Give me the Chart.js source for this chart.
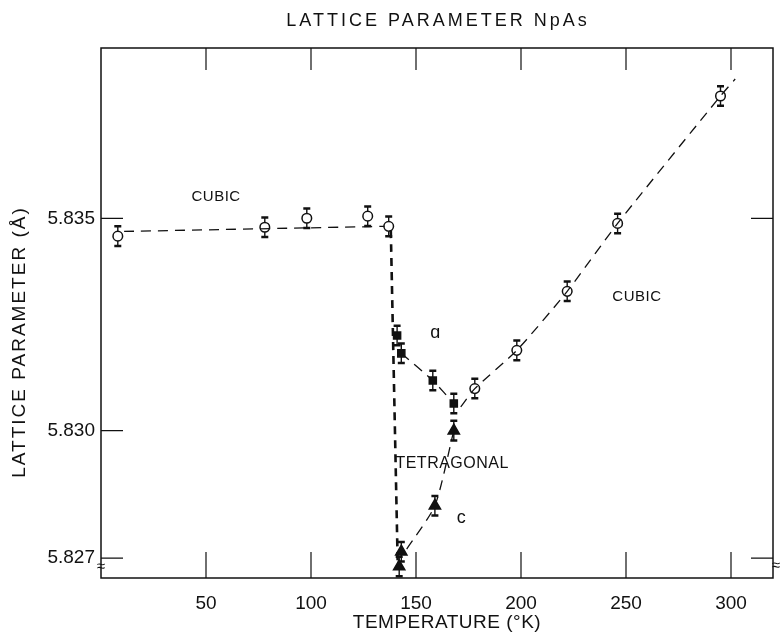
<!DOCTYPE html>
<html>
<head>
<meta charset="utf-8">
<script src="https://cdn.jsdelivr.net/npm/chart.js@4/dist/chart.umd.min.js"></script>
<style>
html, body { margin: 0; padding: 0; background: #fff; }
</style>
</head>
<body>
<canvas id="grafica" width="781" height="633"></canvas>
<script>
const FUENTE = "'Liberation Sans', 'DejaVu Sans', Arial, sans-serif";

// --- datos ---
// cubica (circulos abiertos)
const cubicT = [8, 78, 98, 127, 137, 178, 198, 222, 246, 295];
const cubicA = [5.83458, 5.83479, 5.83500, 5.83505, 5.83481, 5.83099, 5.83189, 5.83328, 5.83488, 5.83788];
// tetragonal a (cuadrados)
const aT = [141, 143, 158, 168];
const aVal = [5.83224, 5.83182, 5.83118, 5.83064];
// tetragonal c (triangulos)
const cT = [168, 159, 143, 142];
const cVal = [5.83000, 5.82823, 5.82715, 5.82680];
const errBar = 0.00023;

// curvas de trazos
const bajaT = [11, 135];
const bajaV = [5.83469, 5.83481];
const saltoT = [138, 141.3];
const saltoV = [5.83472, 5.82683];
const aLineaT = [143, 158, 168];
const aLineaV = [5.83182, 5.83118, 5.83064];
const altaT = [171.3, 178, 198, 222, 246, 295, 302];
const altaV = [5.83056, 5.83099, 5.83189, 5.83328, 5.83488, 5.83788, 5.83828];
const cLineaT = [168, 159, 145];
const cLineaV = [5.83000, 5.82823, 5.82717];

const xTicks = [50, 100, 150, 200, 250, 300];
const yTicks = [5.827, 5.830, 5.835];

const pares = (xs, ys) => xs.map((x, i) => ({ x, y: ys[i] }));

function trazo(datos, ancho, dash) {
    return { type: 'line', data: datos, borderColor: '#111', borderWidth: ancho,
             borderDash: dash, pointRadius: 0, fill: false, tension: 0.2 };
}

function puntos(datos, estilo, radio, relleno) {
    return { type: 'scatter', data: datos, pointStyle: estilo, pointRadius: radio,
             backgroundColor: relleno, borderColor: '#111', borderWidth: 1.5, errores: true };
}

const decoracion = {
    id: 'decoracion',
    beforeDatasetsDraw(chart) {
        const ctx = chart.ctx, xs = chart.scales.x, ys = chart.scales.y;
        ctx.save();
        ctx.strokeStyle = '#111';
        chart.data.datasets.forEach(ds => {
            if (!ds.errores) return;
            ds.data.forEach(p => {
                const px = xs.getPixelForValue(p.x);
                const top = ys.getPixelForValue(p.y + errBar);
                const bot = ys.getPixelForValue(p.y - errBar);
                ctx.lineWidth = 1.4;
                ctx.beginPath(); ctx.moveTo(px, top); ctx.lineTo(px, bot); ctx.stroke();
                ctx.lineWidth = 2.5;
                ctx.beginPath();
                ctx.moveTo(px - 3.5, top); ctx.lineTo(px + 3.5, top);
                ctx.moveTo(px - 3.5, bot); ctx.lineTo(px + 3.5, bot);
                ctx.stroke();
            });
        });
        ctx.restore();
    },
    afterDraw(chart) {
        const ctx = chart.ctx, a = chart.chartArea;
        const xs = chart.scales.x, ys = chart.scales.y;
        ctx.save();
        ctx.strokeStyle = '#111';
        ctx.lineWidth = 1.5;
        ctx.strokeRect(a.left, a.top, a.right - a.left, a.bottom - a.top);
        ctx.lineWidth = 1.2;
        ctx.beginPath();
        xTicks.forEach(t => {
            const px = xs.getPixelForValue(t);
            ctx.moveTo(px, a.bottom); ctx.lineTo(px, a.bottom - 26);
            ctx.moveTo(px, a.top); ctx.lineTo(px, a.top + 22);
        });
        yTicks.forEach(t => {
            const py = ys.getPixelForValue(t);
            ctx.moveTo(a.left, py); ctx.lineTo(a.left + 22, py);
        });
        [5.835, 5.827].forEach(t => {
            const py = ys.getPixelForValue(t);
            ctx.moveTo(a.right, py); ctx.lineTo(a.right - 22, py);
        });
        ctx.stroke();

        // textos
        ctx.fillStyle = '#111';
        ctx.textBaseline = 'middle';
        ctx.textAlign = 'center';
        ctx.font = '18px ' + FUENTE;
        ctx.letterSpacing = '3px';
        ctx.fillText('LATTICE PARAMETER NpAs', 438, 21);
        ctx.font = '19px ' + FUENTE;
        ctx.letterSpacing = '0.5px';
        ctx.fillText('TEMPERATURE (\u00B0K)', 447, 623);
        ctx.save();
        ctx.translate(20, 342);
        ctx.rotate(-Math.PI / 2);
        ctx.letterSpacing = '2px';
        ctx.fillText('LATTICE PARAMETER (\u00C5)', 0, 0);
        ctx.restore();

        ctx.letterSpacing = '0.5px';
        ctx.font = '15px ' + FUENTE;
        ctx.fillText('CUBIC', xs.getPixelForValue(54.8), ys.getPixelForValue(5.8355));
        ctx.fillText('CUBIC', xs.getPixelForValue(255.2), ys.getPixelForValue(5.83314));
        ctx.textAlign = 'left';
        ctx.font = '16px ' + FUENTE;
        ctx.fillText('TETRAGONAL', xs.getPixelForValue(140.2), ys.getPixelForValue(5.82922));
        ctx.textAlign = 'center';
        ctx.font = '18px ' + FUENTE;
        ctx.fillText('\u0251', xs.getPixelForValue(159.3), ys.getPixelForValue(5.83231));
        ctx.fillText('c', xs.getPixelForValue(171.7), ys.getPixelForValue(5.82795));

        // cortes del eje
        ctx.font = '15px ' + FUENTE;
        ctx.fillText('\u2248', a.left, 567);
        ctx.fillText('\u2248', a.right + 3, 566);
        ctx.restore();
    }
};

new Chart(document.getElementById('grafica'), {
    data: {
        datasets: [
            trazo(pares(bajaT, bajaV), 1.3, [10, 7]),
            trazo(pares(saltoT, saltoV), 2.6, [8, 6]),
            trazo(pares(aLineaT, aLineaV), 1.3, [10, 7]),
            trazo(pares(altaT, altaV), 1.3, [10, 7]),
            trazo(pares(cLineaT, cLineaV), 1.3, [10, 7]),
            puntos(pares(cubicT, cubicA), 'circle', 4.8, '#fff'),
            puntos(pares(aT, aVal), 'rect', 5, '#111'),
            puntos(pares(cT, cVal), 'triangle', 6.5, '#111')
        ]
    },
    options: {
        responsive: false,
        animation: false,
        layout: { padding: { top: 48, right: 6, left: 0, bottom: 0 } },
        plugins: { legend: { display: false }, tooltip: { enabled: false } },
        scales: {
            x: {
                type: 'linear', min: 0, max: 320,
                grid: { display: false, drawTicks: false },
                border: { display: false },
                afterBuildTicks: s => { s.ticks = xTicks.map(v => ({ value: v })); },
                afterFit: s => { s.height = 55; },
                ticks: { color: '#111', padding: 14, font: { family: FUENTE, size: 19 } }
            },
            y: {
                type: 'linear', min: 5.82653, max: 5.83901,
                grid: { display: false, drawTicks: false },
                border: { display: false },
                afterBuildTicks: s => { s.ticks = yTicks.map(v => ({ value: v })); },
                afterFit: s => { s.width = 101; },
                ticks: { color: '#111', padding: 6, font: { family: FUENTE, size: 19 },
                         callback: v => v.toFixed(3) }
            }
        }
    },
    plugins: [decoracion]
});
</script>
</body>
</html>
